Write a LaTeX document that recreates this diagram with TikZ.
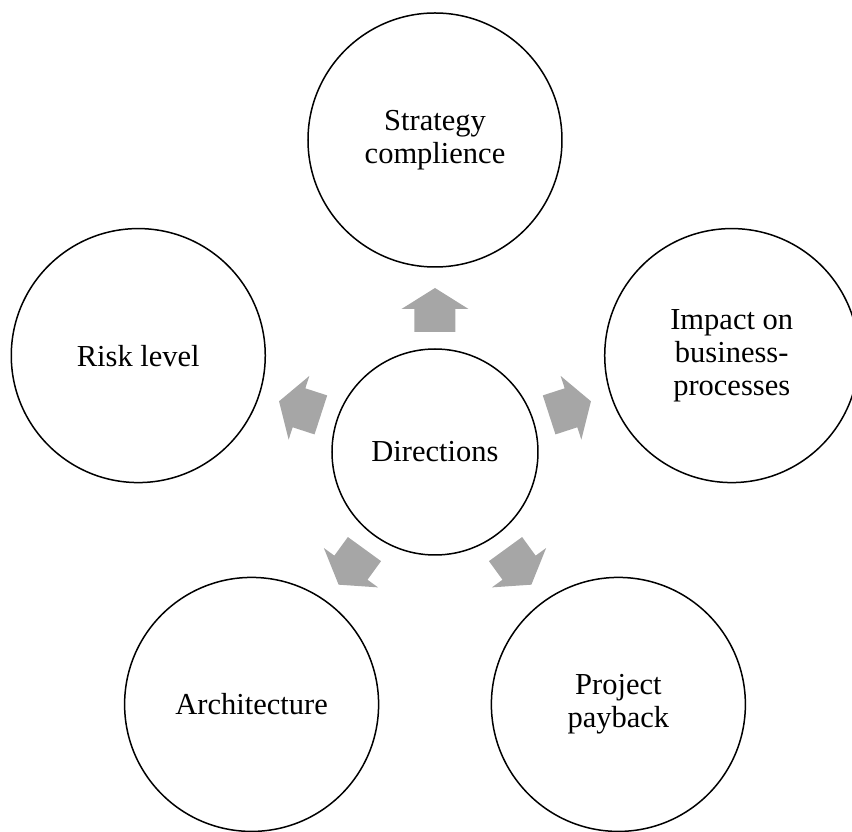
\documentclass[tikz,border=0pt]{standalone}
\usepackage{fontspec}
\setmainfont{Liberation Serif}
\tikzset{
  hub/.style={circle, draw, line width=1.5pt, minimum size=206pt, inner sep=0pt, align=center},
  topic/.style={circle, draw, line width=1.5pt, minimum size=254pt, inner sep=0pt, align=center},
  blockarrow/.style={fill=black!35}
}
\begin{document}
\begin{tikzpicture}[x=1pt, y=1pt, font=\fontsize{30.5}{33}\selectfont]
    \useasboundingbox (-435,-380) rectangle (417,452);
    \node [hub] (dir) at (0,0) {Directions};
    \node [topic] (strategy) at (90:312) {Strategy\\complience};
    \node [topic] (impact) at (18:312) {Impact on\\business-\\processes};
    \node [topic] (payback) at (306:312) {Project\\payback};
    \node [topic] (arch) at (234:312) {Architecture};
    \node [topic] (risk) at (162:312) {Risk level};
    \foreach \a in {90,18,306,234,162}
      \fill [blockarrow, rotate=\a] (120,-20.5) -- (143,-20.5) -- (143,-33.5) -- (164,0)
        -- (143,33.5) -- (143,20.5) -- (120,20.5) -- cycle;
  \end{tikzpicture}
\end{document}
